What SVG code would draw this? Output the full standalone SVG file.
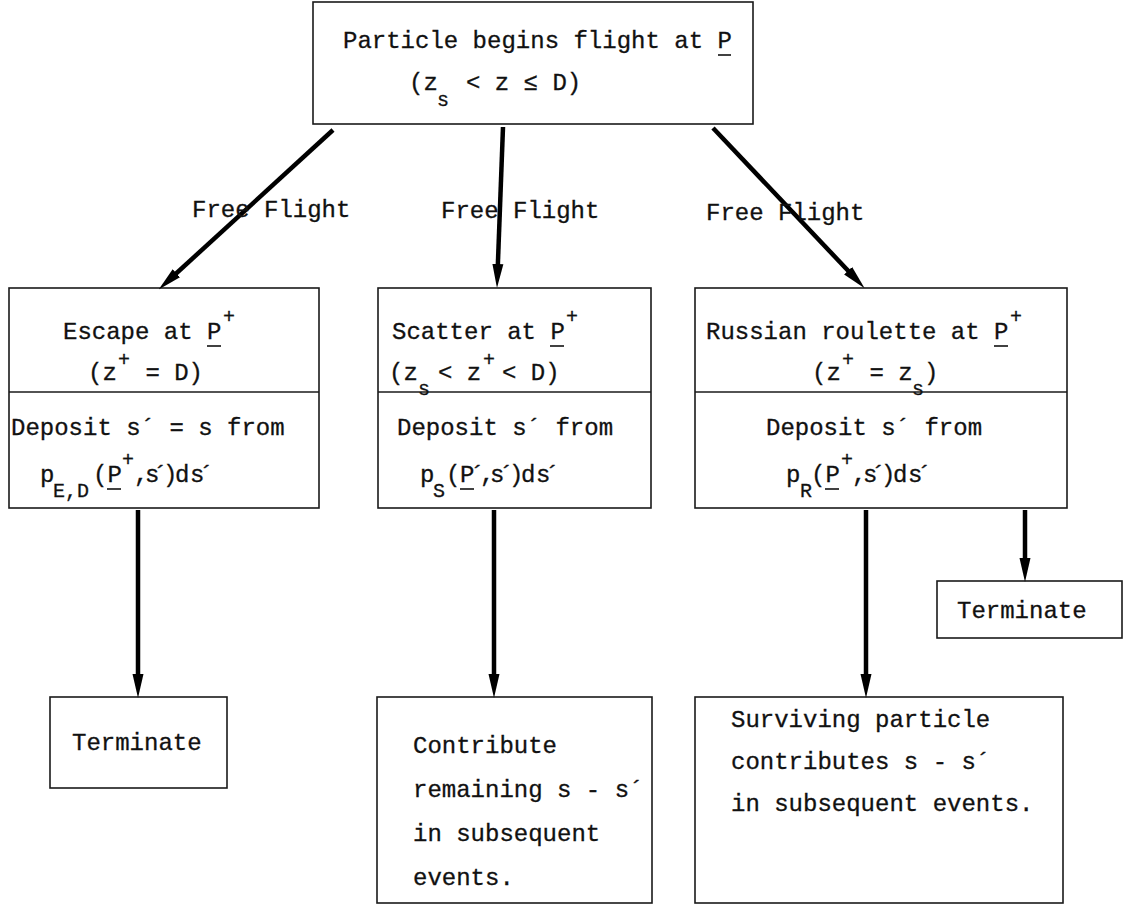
<svg xmlns="http://www.w3.org/2000/svg" width="1129" height="905" viewBox="0 0 1129 905">
  <style>
    .box { fill: #fff; stroke: #1a1a1a; stroke-width: 1.6; }
    .div { stroke: #1a1a1a; stroke-width: 1.6; }
    .t { font-family: "Liberation Mono", "DejaVu Sans Mono", monospace; font-size: 24px; fill: #111; stroke: #111; stroke-width: 0.3; }
    .sm { font-size: 20px; }
    .ul { stroke: #111; stroke-width: 1.6; }
    .arrow { stroke: #000; stroke-width: 4.5; fill: none; marker-end: url(#ah); }
  </style>
  <defs>
    <marker id="ah" markerUnits="userSpaceOnUse" markerWidth="24" markerHeight="12" viewBox="0 0 24 12" refX="10" refY="6" orient="auto">
      <path d="M0,0.5 L24,6 L0,11.5 z" fill="#000"/>
    </marker>
  </defs>
  <rect width="1129" height="905" fill="#fff"/>

  <!-- start node -->
  <g id="start">
    <rect class="box" x="313" y="2" width="440" height="122"/>
    <text class="t" x="343" y="48">Particle begins flight at P</text>
    <line class="ul" x1="718" y1="55" x2="731" y2="55"/>
    <text class="t"><tspan x="409" y="90">(z</tspan><tspan class="sm" x="437" y="106">s</tspan><tspan x="466" y="90">&lt; z ≤ D)</tspan></text>
  </g>

  <!-- escape branch -->
  <g id="escape">
    <rect class="box" x="9" y="288" width="310" height="220"/>
    <line class="div" x1="9" y1="392" x2="319" y2="392"/>
    <text class="t" x="63" y="339">Escape at P</text>
    <line class="ul" x1="207" y1="346" x2="221" y2="346"/>
    <text class="t sm" x="223" y="323">+</text>
    <text class="t"><tspan x="88" y="380">(z</tspan><tspan class="sm" x="118" y="366">+</tspan><tspan x="131" y="380"> = D)</tspan></text>
    <text class="t" x="11" y="435">Deposit s´ = s from</text>
    <text class="t"><tspan x="40" y="482">p</tspan><tspan class="sm" x="53 65 77" y="497">E,D</tspan><tspan x="93" y="482">(P</tspan></text>
    <line class="ul" x1="107" y1="489" x2="121" y2="489"/>
    <text class="t sm" x="122" y="466">+</text>
    <text class="t" x="134 145 153 163 175 190 199" y="482">,s´)ds´</text>
  </g>

  <!-- scatter branch -->
  <g id="scatter">
    <rect class="box" x="378" y="288" width="273" height="220"/>
    <line class="div" x1="378" y1="392" x2="651" y2="392"/>
    <text class="t" x="392" y="339">Scatter at P</text>
    <line class="ul" x1="550" y1="346" x2="564" y2="346"/>
    <text class="t sm" x="566" y="323">+</text>
    <text class="t"><tspan x="389" y="380">(z</tspan><tspan class="sm" x="418" y="395">s</tspan><tspan x="438" y="380">&lt; z</tspan><tspan class="sm" x="483" y="366">+</tspan><tspan x="502" y="380">&lt; D)</tspan></text>
    <text class="t" x="397" y="435">Deposit s´ from</text>
    <text class="t"><tspan x="420" y="482">p</tspan><tspan class="sm" x="433" y="497">S</tspan></text>
    <text class="t" x="446 460 470 480 490 499 509 521 536 545" y="482">(P´,s´)ds´</text>
    <line class="ul" x1="460" y1="489" x2="474" y2="489"/>
  </g>

  <!-- russian roulette branch -->
  <g id="roulette">
    <rect class="box" x="695" y="288" width="372" height="220"/>
    <line class="div" x1="695" y1="392" x2="1067" y2="392"/>
    <text class="t" x="706" y="339">Russian roulette at P</text>
    <line class="ul" x1="994" y1="346" x2="1008" y2="346"/>
    <text class="t sm" x="1010" y="323">+</text>
    <text class="t"><tspan x="812" y="380">(z</tspan><tspan class="sm" x="842" y="366">+</tspan><tspan x="855" y="380"> = z</tspan><tspan class="sm" x="912" y="395">s</tspan><tspan x="924" y="380">)</tspan></text>
    <text class="t" x="766" y="435">Deposit s´ from</text>
    <text class="t"><tspan x="786" y="482">p</tspan><tspan class="sm" x="800" y="497">R</tspan><tspan x="811" y="482">(P</tspan></text>
    <line class="ul" x1="825" y1="489" x2="839" y2="489"/>
    <text class="t sm" x="841" y="466">+</text>
    <text class="t" x="852 863 871 881 893 908 917" y="482">,s´)ds´</text>
  </g>

  <!-- outcomes -->
  <g id="terminate-escape">
    <rect class="box" x="50" y="697" width="177" height="91"/>
    <text class="t" x="72" y="750">Terminate</text>
  </g>
  <g id="contribute">
    <rect class="box" x="377" y="697" width="275" height="206"/>
    <text class="t" x="413" y="753">Contribute</text>
    <text class="t" x="413" y="797">remaining s - s´</text>
    <text class="t" x="413" y="841">in subsequent</text>
    <text class="t" x="413" y="885">events.</text>
  </g>
  <g id="survive">
    <rect class="box" x="695" y="697" width="368" height="206"/>
    <text class="t" x="731" y="727">Surviving particle</text>
    <text class="t" x="731" y="769">contributes s - s´</text>
    <text class="t" x="731" y="811">in subsequent events.</text>
  </g>
  <g id="terminate-roulette">
    <rect class="box" x="937" y="581" width="185" height="57"/>
    <text class="t" x="957" y="618">Terminate</text>
  </g>

  <!-- connectors -->
  <g id="connectors">
    <line class="arrow" x1="333" y1="130" x2="169" y2="280"/>
    <line class="arrow" x1="503" y1="127" x2="497.5" y2="274"/>
    <line class="arrow" x1="713" y1="128" x2="855" y2="278"/>
    <line class="arrow" x1="138" y1="510" x2="138" y2="684"/>
    <line class="arrow" x1="494" y1="510" x2="494" y2="684"/>
    <line class="arrow" x1="866" y1="510" x2="866" y2="684"/>
    <line class="arrow" x1="1025" y1="510" x2="1025" y2="568"/>
    <text class="t" x="192" y="217">Free Flight</text>
    <text class="t" x="441" y="218">Free Flight</text>
    <text class="t" x="706" y="220">Free  Flight</text>
  </g>
</svg>
